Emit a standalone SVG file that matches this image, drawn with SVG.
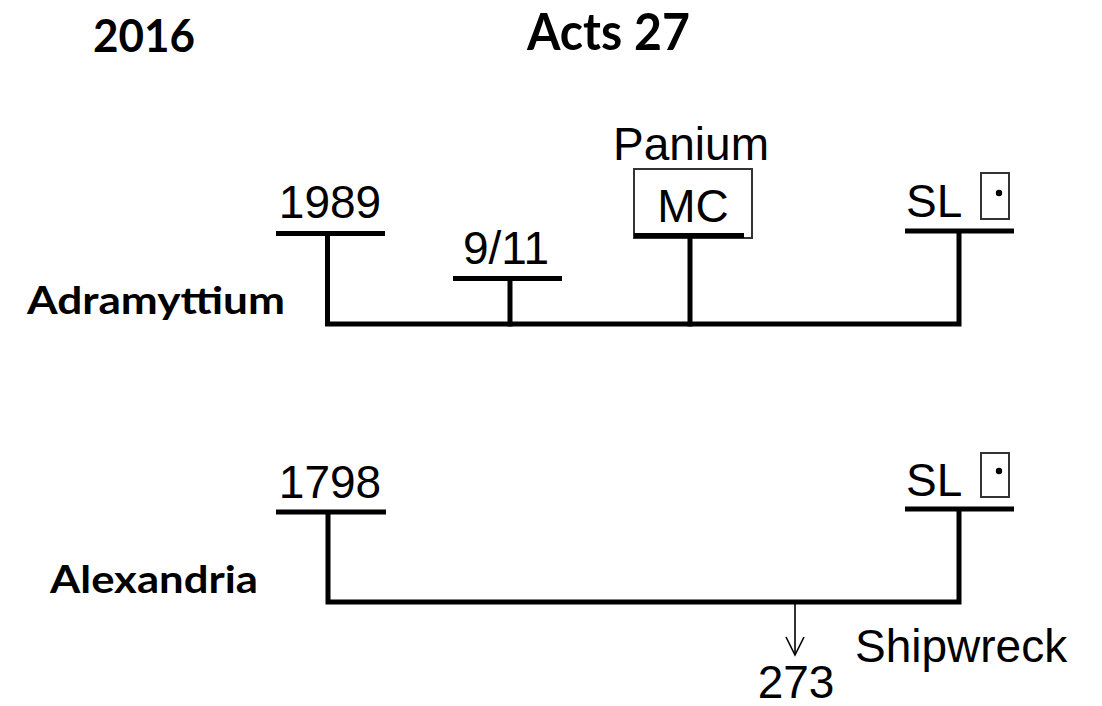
<svg xmlns="http://www.w3.org/2000/svg" width="1102" height="706" viewBox="0 0 1102 706">
<defs>
<style>
.t{font-family:"Liberation Sans",Arial,sans-serif;font-size:46px;fill:#000}
.lb{font-family:Lato,"Liberation Sans",sans-serif;font-weight:bold;fill:#000}
.bar{stroke:#000;stroke-width:5;fill:none}
.conn{stroke:#000;stroke-width:5;fill:none;stroke-linecap:square}
.box{stroke:#333;stroke-width:2;fill:none}
.thin{stroke:#000;stroke-width:1.6;fill:none}
</style>
<marker id="vee" markerUnits="userSpaceOnUse" markerWidth="24" markerHeight="24" viewBox="-20 -12 24 24" refX="0" refY="0" orient="auto">
<path d="M-18,-9 L0,0 L-18,9" fill="none" stroke="#000" stroke-width="1.6"/>
</marker>
</defs>
<rect width="1102" height="706" fill="#fff"/>

<g id="year"><text class="lb" x="93" y="52" font-size="46" textLength="102" lengthAdjust="spacingAndGlyphs">2016</text></g>
<g id="title"><text class="lb" x="527" y="50" font-size="52" textLength="163" lengthAdjust="spacingAndGlyphs">Acts 27</text></g>

<g id="label-adramyttium"><text class="lb" x="27" y="314" font-size="38" textLength="258" lengthAdjust="spacingAndGlyphs">Adramyttium</text></g>
<g id="label-alexandria"><text class="lb" x="50" y="593" font-size="38" textLength="208" lengthAdjust="spacingAndGlyphs">Alexandria</text></g>

<g id="node-1989">
<text class="t" x="330" y="218" text-anchor="middle">1989</text>
<line class="bar" x1="276" y1="233.5" x2="385" y2="233.5"/>
</g>
<g id="node-911">
<text class="t" x="506" y="264" text-anchor="middle">9/11</text>
<line class="bar" x1="453" y1="278.5" x2="562" y2="278.5"/>
</g>
<g id="node-mc">
<text class="t" x="691" y="160" text-anchor="middle">Panium</text>
<rect class="box" x="634" y="169" width="118" height="69"/>
<text class="t" x="693" y="222" text-anchor="middle">MC</text>
<line class="bar" x1="634" y1="235.5" x2="744" y2="235.5"/>
</g>
<g id="node-sl1">
<text class="t" x="906" y="217">SL</text>
<rect class="box" x="981" y="173" width="28" height="46"/>
<circle cx="999" cy="193" r="3.2" fill="#000"/>
<line class="bar" x1="905" y1="231" x2="1014" y2="231"/>
</g>

<g id="node-1798">
<text class="t" x="330" y="498" text-anchor="middle">1798</text>
<line class="bar" x1="276" y1="512" x2="386" y2="512"/>
</g>
<g id="node-sl2">
<text class="t" x="906" y="496">SL</text>
<rect class="box" x="981" y="453" width="28" height="44"/>
<circle cx="999" cy="471" r="3.2" fill="#000"/>
<line class="bar" x1="905" y1="509" x2="1014" y2="509"/>
</g>
<g id="node-273"><text class="t" x="796" y="698" text-anchor="middle">273</text></g>
<g id="label-shipwreck"><text class="t" x="855" y="662" font-size="47">Shipwreck</text></g>

<g id="connectors">
<polyline class="conn" points="327.5,236 327.5,324 959,324 959,233"/>
<line class="conn" x1="510" y1="281" x2="510" y2="324"/>
<line class="conn" x1="690" y1="238" x2="690" y2="324"/>
<polyline class="conn" points="328,514 328,602 959,602 959,511"/>
<line class="thin" x1="795" y1="604" x2="795" y2="655" marker-end="url(#vee)"/>
</g>
</svg>
